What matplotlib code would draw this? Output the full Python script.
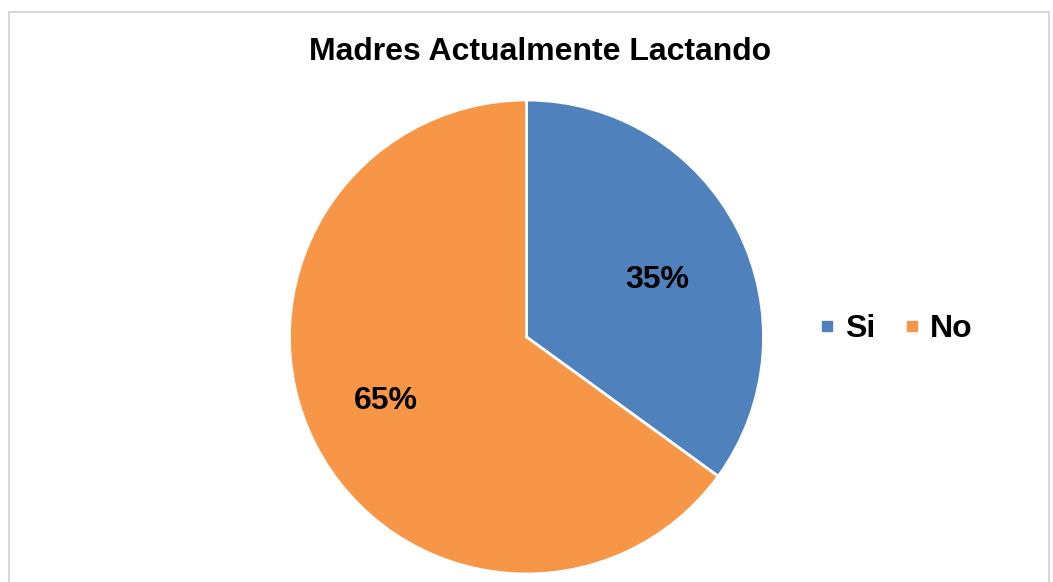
import matplotlib.pyplot as plt
from matplotlib.patches import Rectangle
from matplotlib.lines import Line2D

plt.rcParams['font.family'] = ['Liberation Sans', 'DejaVu Sans']

labels = ['Si', 'No']
values = [35, 65]
colors = ['#4F81BD', '#F79646']
title = 'Madres Actualmente Lactando'

fig = plt.figure(figsize=(10.53, 5.82), dpi=100)
fig.patches.append(Rectangle((9 / 1053, -0.1), 1040 / 1053, 1.1 - 12 / 582,
                             transform=fig.transFigure, fill=False,
                             edgecolor='#D9D9D9', linewidth=1.5))

ax = fig.add_axes([289 / 1053, 8 / 582, 475 / 1053, 474 / 582])
wedges, texts, autotexts = ax.pie(values, colors=colors, startangle=90, counterclock=False,
                                  autopct='%1.0f%%', pctdistance=0.62, radius=1,
                                  wedgeprops=dict(edgecolor='white', linewidth=2))
# small nudges so the labels sit where Excel put them
nudges = [(0.0, -0.04), (-0.04, 0.01)]
for t, (dx, dy) in zip(autotexts, nudges):
    t.set_fontsize(23)
    t.set_fontweight('bold')
    t.set_color('black')
    x, y = t.get_position()
    t.set_position((x + dx, y + dy))
ax.set_xlim(-1, 1)
ax.set_ylim(-1, 1)
ax.set_aspect('equal')

fig.text(540 / 1053, 1 - 52 / 582, title, ha='center', va='center',
         fontsize=23, fontweight='bold')

handles = [Line2D([], [], marker='s', linestyle='none', markersize=7.5,
                  markerfacecolor=c, markeredgecolor=c) for c in colors]
fig.legend(handles, labels, ncol=2, loc='center left', bbox_to_anchor=(805 / 1053, 1 - 329 / 582),
           borderaxespad=0, frameon=False, prop=dict(size=23, weight='bold'), handlelength=0.6,
           handletextpad=0.25, columnspacing=0.86)

fig.savefig('out.png', dpi=100)
